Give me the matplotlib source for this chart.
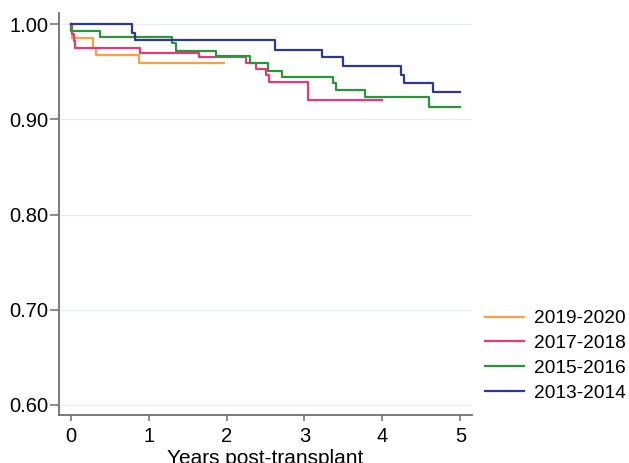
import matplotlib.pyplot as plt

plt.rcParams['font.family'] = ['Liberation Sans', 'DejaVu Sans']

# Kaplan-Meier step curves (time in years, survival)
t_1920 = [0, 0.01, 0.02, 0.28, 0.33, 0.88, 1.97]
s_1920 = [1.000, 0.993, 0.985, 0.975, 0.967, 0.959, 0.959]

t_1718 = [0, 0.02, 0.04, 0.06, 0.89, 1.65, 2.25, 2.38, 2.50, 2.54, 3.05, 4.00]
s_1718 = [1.000, 0.990, 0.982, 0.975, 0.970, 0.965, 0.959, 0.953, 0.946, 0.939, 0.920, 0.920]

t_1516 = [0, 0.01, 0.37, 1.30, 1.35, 1.87, 2.30, 2.53, 2.71, 3.37, 3.41, 3.78, 4.60, 5.00]
s_1516 = [1.000, 0.993, 0.986, 0.980, 0.972, 0.966, 0.959, 0.951, 0.944, 0.938, 0.931, 0.923, 0.913, 0.913]

t_1314 = [0, 0.79, 0.82, 2.62, 3.23, 3.50, 4.24, 4.28, 4.65, 5.00]
s_1314 = [1.000, 0.991, 0.983, 0.973, 0.965, 0.956, 0.947, 0.938, 0.929, 0.929]

labels = ['2019-2020', '2017-2018', '2015-2016', '2013-2014']
colors = ['#fb9f45', '#e8387a', '#2a953c', '#2b3990']
series = [(t_1920, s_1920), (t_1718, s_1718), (t_1516, s_1516), (t_1314, s_1314)]

yticks = [0.60, 0.70, 0.80, 0.90, 1.00]
xticks = [0, 1, 2, 3, 4, 5]

fig = plt.figure(figsize=(6.29, 4.63), dpi=100)
ax = fig.add_axes([0.0938, 0.1037, 0.6566, 0.868])

for ty in yticks:
    ax.axhline(ty, color='#eaeff1', linewidth=1.0, zorder=0)

for (t, s), lab, c in zip(series, labels, colors):
    ax.step(t, s, where='post', color=c, linewidth=1.6, label=lab)

ax.set_xlim(-0.15, 5.15)
ax.set_ylim(0.5895, 1.0115)
ax.set_yticks(yticks)
ax.set_yticklabels([f'{v:.2f}' for v in yticks])
ax.set_xticks(xticks)

for side in ['top', 'right']:
    ax.spines[side].set_visible(False)
for side in ['left', 'bottom']:
    ax.spines[side].set_color('#6e6e6e')
    ax.spines[side].set_linewidth(1.3)

ax.tick_params(axis='y', colors='#6e6e6e', labelcolor='black', labelsize=14.5,
               length=6.5, width=1.1, direction='out', pad=1)
ax.tick_params(axis='x', colors='#6e6e6e', labelcolor='black', labelsize=14.5,
               length=4.5, width=1.1, direction='out', pad=4)
ax.set_xlabel('Years post-transplant', fontsize=15, labelpad=2)

ax.legend(loc='lower left', bbox_to_anchor=(1.0, 0.0), frameon=False, fontsize=13.8,
          handlelength=2.0, handletextpad=0.52, labelspacing=0.38, borderaxespad=0.3)

fig.savefig('out.png', dpi=100)
